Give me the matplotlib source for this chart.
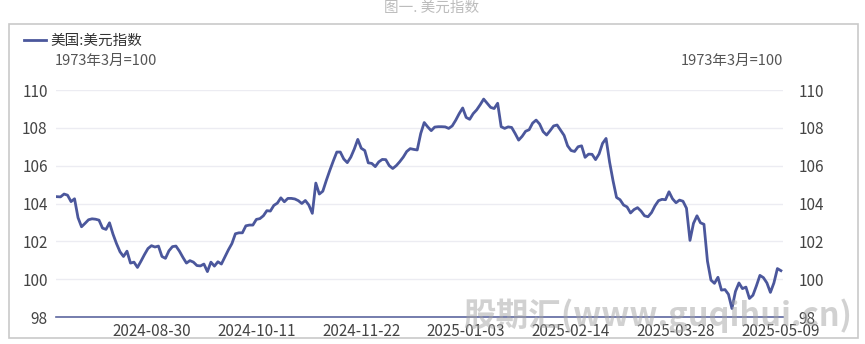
import numpy as np
import pandas as pd
import matplotlib
matplotlib.use("Agg")
import matplotlib.pyplot as plt
from matplotlib.lines import Line2D
from matplotlib.patches import Rectangle

plt.rcParams['font.family'] = ['Noto Sans CJK SC', 'DejaVu Sans']

# 美元指数 daily values, 2024-07-24 .. 2025-05-09 (weekdays)
dates = pd.bdate_range('2024-07-24', '2025-05-09')
dxy = [
    104.36, 104.35, 104.50, 104.44, 104.10, 104.25, 103.25, 102.77, 102.95, 103.14,
    103.19, 103.17, 103.12, 102.70, 102.63, 102.98, 102.38, 101.88, 101.45, 101.20,
    101.48, 100.85, 100.90, 100.62, 100.95, 101.30, 101.62, 101.77, 101.70, 101.75,
    101.20, 101.10, 101.50, 101.72, 101.75, 101.48, 101.15, 100.85, 100.98, 100.90,
    100.72, 100.70, 100.80, 100.40, 100.90, 100.69, 100.92, 100.80, 101.18, 101.55,
    101.88, 102.40, 102.45, 102.45, 102.82, 102.86, 102.86, 103.16, 103.20, 103.35,
    103.62, 103.60, 103.90, 104.02, 104.30, 104.09, 104.27, 104.27, 104.24, 104.15,
    104.00, 104.16, 103.92, 103.48, 105.08, 104.50, 104.65, 105.22, 105.75, 106.25,
    106.72, 106.72, 106.35, 106.16, 106.45, 106.88, 107.39, 106.92, 106.80, 106.15,
    106.12, 105.95, 106.20, 106.33, 106.32, 106.00, 105.85, 106.00, 106.21, 106.45,
    106.75, 106.90, 106.86, 106.83, 107.70, 108.28, 108.05, 107.85, 108.04, 108.06,
    108.06, 108.05, 107.97, 108.10, 108.40, 108.75, 109.05, 108.55, 108.45, 108.75,
    108.95, 109.22, 109.52, 109.30, 109.08, 109.02, 109.30, 108.06, 107.97, 108.05,
    108.02, 107.70, 107.35, 107.55, 107.82, 107.90, 108.25, 108.41, 108.20, 107.80,
    107.62, 107.85, 108.10, 108.15, 107.88, 107.60, 107.05, 106.80, 106.75, 107.00,
    107.05, 106.44, 106.61, 106.60, 106.32, 106.62, 107.18, 107.44, 106.20, 105.20,
    104.32, 104.20, 103.92, 103.82, 103.50, 103.68, 103.78, 103.60, 103.35, 103.30,
    103.52, 103.88, 104.15, 104.22, 104.20, 104.62, 104.25, 104.04, 104.18, 104.12,
    103.75, 102.05, 102.95, 103.35, 102.98, 102.90, 100.95, 99.95, 99.78, 100.10,
    99.42, 99.45, 99.20, 98.45, 99.35, 99.80, 99.50, 99.58, 98.98, 99.15,
    99.65, 100.20, 100.08, 99.80, 99.30, 99.80, 100.56, 100.45,
]
tick_dates = ['2024-08-30', '2024-10-11', '2024-11-22', '2025-01-03',
              '2025-02-14', '2025-03-28', '2025-05-09']
yticks = [98, 100, 102, 104, 106, 108, 110]

W, H = 865, 344
fig = plt.figure(figsize=(W / 100, H / 100), dpi=100)

# outer frame
fig.patches.append(Rectangle((9 / W, 6 / H), 849 / W, 314 / H, transform=fig.transFigure,
                             fill=False, edgecolor='#c9c9c9', linewidth=1.2))
fig.text(432 / W, 1 - 8 / H, '图一. 美元指数', ha='center', va='center',
         fontsize=10.5, color='#bcbcbc')

ax = fig.add_axes([56 / W, (H - 317) / H, (783 - 56) / W, (317 - 90) / H])
x = np.arange(len(dxy))
line_color = '#4b579c'
ax.plot(x, dxy, color=line_color, linewidth=2)

ax.set_xlim(-0.3, len(dxy) - 0.4)
ax.set_ylim(98, 110)
ax.set_yticks(yticks)
ax.grid(axis='y', color='#ececf2', linewidth=1)
ax.set_axisbelow(True)
for s in ['top', 'left', 'right']:
    ax.spines[s].set_visible(False)
ax.spines['bottom'].set_color('#5d679f')
ax.spines['bottom'].set_linewidth(1.2)

pos = [dates.get_loc(pd.Timestamp(d)) for d in tick_dates]
ax.set_xticks(pos)
ax.set_xticklabels(tick_dates)
ax.tick_params(axis='x', length=0, pad=4, labelsize=11, labelcolor='#444444')
ax.tick_params(axis='y', length=0, pad=6, labelsize=11, labelcolor='#444444')

ax2 = ax.twinx()
ax2.set_ylim(98, 110)
ax2.set_yticks(yticks)
for s in ax2.spines.values():
    s.set_visible(False)
ax2.tick_params(axis='y', length=0, pad=11, labelsize=11, labelcolor='#444444')

fig.text(55 / W, 1 - 61 / H, '1973年3月=100', ha='left', va='center',
         fontsize=10.5, color='#555555')
fig.text(783 / W, 1 - 61 / H, '1973年3月=100', ha='right', va='center',
         fontsize=10.5, color='#555555')

handle = Line2D([], [], color=line_color, linewidth=2)
fig.legend([handle], ['美国:美元指数'], loc='center left',
           bbox_to_anchor=(11 / W, 1 - 41 / H), frameon=False,
           handlelength=1.5, handletextpad=0.3, fontsize=10.5, labelcolor='#333333')

# watermark
fig.text(463 / W, 1 - 316 / H, '股期汇(www.guqihui.cn)', ha='left', va='center',
         fontsize=23.5, fontweight='bold', style='italic', color='#a5a5a5', alpha=0.5)

fig.savefig('out.png', dpi=100)
